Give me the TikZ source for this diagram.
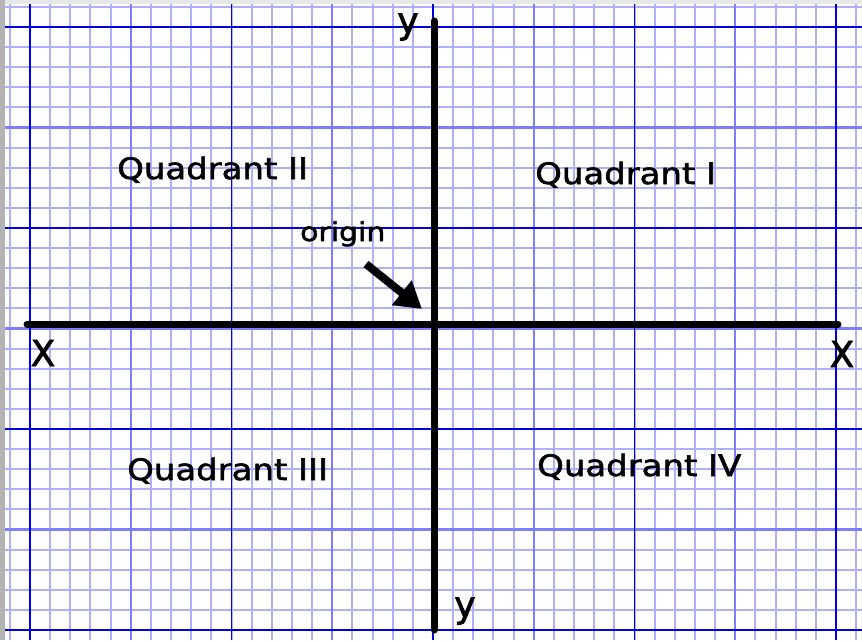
\documentclass[tikz,border=0pt]{standalone}
\usepackage{fontspec}
\newfontfamily\handfont[FakeStretch=1.15,FakeBold=2]{DejaVu Sans}
\newfontfamily\axisfont[FakeBold=2]{DejaVu Sans}
\usetikzlibrary{arrows.meta}
\definecolor{minorblue}{RGB}{175,175,255}
\definecolor{medblue}{RGB}{125,125,255}
\definecolor{darkblue}{RGB}{0,0,225}
\definecolor{bordergray}{RGB}{180,180,180}
\definecolor{topgray}{RGB}{232,232,232}
\tikzset{
  minorline/.style={draw=minorblue,line width=2pt},
  medline/.style={draw=medblue,line width=2.2pt},
  darkline/.style={draw=darkblue,line width=1.6pt},
  axisline/.style={draw=black,line width=7pt,line cap=round},
  quadlabel/.style={inner sep=0pt,anchor=base west,font=\handfont\fontsize{29.5}{31}\selectfont},
  axislabel/.style={inner sep=0pt,anchor=center,font=\axisfont\fontsize{36}{38}\selectfont},
  pointer/.style={draw=black,line width=8pt,-{Triangle[length=26pt,width=30pt]}}
}
\begin{document}
\begin{tikzpicture}[x=1pt,y=-1pt]
\useasboundingbox (0,0) rectangle (862,640);
\fill[white] (0,0) rectangle (862,640);
\begin{scope}
\clip (0,0) rectangle (862,640);
% minor grid
\foreach \k in {-1,...,41} \draw[minorline] ({30+\k*20.15},0) -- ({30+\k*20.15},640);
\foreach \k in {-1,...,31} \draw[minorline] (0,{27+\k*20.1}) -- (862,{27+\k*20.1});
% medium grid
\foreach \k in {5,15,25,35} \draw[medline] ({30+\k*20.15},0) -- ({30+\k*20.15},640);
\foreach \k in {5,15,25} \draw[medline] (0,{27+\k*20.1}) -- (862,{27+\k*20.1});
% dark grid
\foreach \k in {0,10,20,30,40} \draw[darkline] ({30+\k*20.15},0) -- ({30+\k*20.15},640);
\foreach \k in {0,10,20,30} \draw[darkline] (0,{27+\k*20.1}) -- (862,{27+\k*20.1});
\end{scope}
% window border
\fill[topgray] (0,0) rectangle (862,3.5);
\fill[bordergray] (0,0) rectangle (4.5,640);
% axes
\coordinate (xl) at (27,324);
\coordinate (xr) at (838,324);
\coordinate (yt) at (434,21);
\coordinate (yb) at (434,630);
\coordinate (o) at (434,324);
\draw[axisline] (xl) -- (xr);
\draw[axisline] (yt) -- (yb);
% axis labels
\node[axislabel] (ytop) at (408,27) {y};
\node[axislabel] (ybot) at (465,611) {y};
\node[axislabel] (xleft) at (43,353) {X};
\node[axislabel] (xright) at (842,354) {X};
% quadrant labels
\node[quadlabel] (q2) at (117,179) {Quadrant II};
\node[quadlabel] (q1) at (535,184) {Quadrant I};
\node[quadlabel] (q3) at (127,480) {Quadrant III};
\node[quadlabel] (q4) at (537,476) {Quadrant IV};
\node[quadlabel,font=\handfont\fontsize{26}{28}\selectfont] (orig) at (300,241) {origin};
% pointer
\coordinate (as) at (366,264);
\coordinate (at) at (422,309);
\draw[pointer] (as) -- (at);
\end{tikzpicture}
\end{document}
